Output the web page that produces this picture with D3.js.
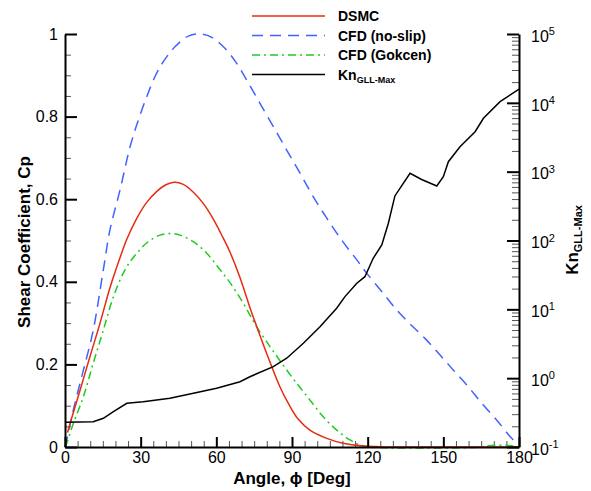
<!DOCTYPE html>
<html>
<head>
<meta charset="utf-8">
<script src="https://cdn.jsdelivr.net/npm/d3@7"></script>
<style>
  body { margin: 0; background: #fff; }
  text { font-family: "Liberation Sans", Arial, Helvetica, sans-serif; }
</style>
</head>
<body>
<script>
// DSMC shear coefficient
var dsmcAngle = [1, 2, 6, 9.9, 13.9, 17.8, 21.8, 24.5, 28.4, 32.1, 36.4, 40, 43.3, 46.9, 50.9, 54.8, 58.8, 62.8, 65.4, 69.4, 73.3, 77.3, 82, 85.2, 88.5, 92.5, 97.1, 103.8, 110.3, 118.3, 123.6, 130, 180];
var dsmcCp = [0.035, 0.057, 0.138, 0.219, 0.3, 0.385, 0.458, 0.503, 0.553, 0.59, 0.619, 0.635, 0.641, 0.636, 0.617, 0.59, 0.552, 0.505, 0.472, 0.41, 0.338, 0.27, 0.194, 0.146, 0.106, 0.067, 0.041, 0.021, 0.009, 0.0024, 0.001, 0, 0];

// CFD no-slip
var noslipAngle = [0, 0.7, 3.3, 7.3, 11.2, 15.2, 17.8, 21.8, 25.8, 29.1, 32.4, 35.7, 39, 43.6, 48.9, 53.5, 58.2, 62.8, 67.4, 72, 77.3, 82.6, 87.9, 93.2, 98.4, 103.8, 109.7, 115.7, 119.6, 126.2, 131.5, 136.8, 142.7, 148.7, 154, 159.9, 165.2, 171.2, 177.1, 180];
var noslipCp = [0, 0.017, 0.09, 0.186, 0.283, 0.429, 0.525, 0.622, 0.727, 0.792, 0.848, 0.897, 0.933, 0.969, 0.995, 1.0, 0.992, 0.969, 0.935, 0.889, 0.832, 0.776, 0.719, 0.663, 0.606, 0.554, 0.501, 0.453, 0.421, 0.372, 0.332, 0.298, 0.263, 0.223, 0.186, 0.146, 0.106, 0.065, 0.021, 0.006];

// CFD Gokcen slip
var gokcenAngle = [0, 0.7, 3.3, 7.3, 11.2, 15.2, 19.2, 23.8, 28.4, 33, 37.7, 41.6, 45.6, 50.9, 56.2, 61.5, 65.4, 70.7, 76, 81.3, 85.9, 91.9, 97.1, 102.4, 107.7, 113, 117, 121, 165, 168, 171, 175, 178, 180];
var gokcenCp = [0, 0.009, 0.057, 0.122, 0.203, 0.283, 0.364, 0.429, 0.469, 0.497, 0.513, 0.517, 0.513, 0.497, 0.469, 0.429, 0.398, 0.348, 0.291, 0.243, 0.203, 0.154, 0.114, 0.073, 0.041, 0.017, 0.005, 0, 0, 0.003, 0.004, 0.004, 0.002, 0];

// Kn GLL-Max (right log axis)
var knAngle = [0, 11.2, 15.2, 19.2, 24.5, 31, 41.6, 50.9, 60.1, 69.4, 73.3, 82.6, 87.9, 94.5, 101.1, 107.7, 111, 115.7, 118.9, 122.2, 125.6, 128.2, 130.8, 132.8, 136.8, 141.4, 147.4, 150, 152, 156.6, 162.6, 165.9, 172.5, 180];
var knValue = [0.229, 0.233, 0.261, 0.326, 0.432, 0.455, 0.511, 0.603, 0.713, 0.889, 1.05, 1.47, 1.95, 3.21, 5.6, 10.4, 15.3, 23.9, 29.8, 55.2, 86.1, 178, 444, 573, 946, 769, 619, 845, 1396, 2307, 3811, 5970, 10400, 15850];

var xTicks = [0, 30, 60, 90, 120, 150, 180];
var cpTicks = [0, 0.2, 0.4, 0.6, 0.8, 1];
var knExp = [-1, 0, 1, 2, 3, 4, 5];

var width = 591, height = 491;
var plotL = 65, plotR = 519, plotT = 34, plotB = 447;

var svg = d3.select("body").append("svg")
  .attr("width", width)
  .attr("height", height);

var x = d3.scaleLinear().domain([0, 180]).range([plotL, plotR]);
var y = d3.scaleLinear().domain([0, 1]).range([plotB, plotT]);
var yKn = d3.scaleLog().domain([0.1, 1e5]).range([plotB, plotT]);

/* minor ticks */
var xMinor = d3.range(0, 181, 5).filter(function(d) { return d % 30 !== 0; });
var cpMinor = d3.range(0, 1.0001, 0.05).filter(function(d) { return Math.round(d * 100) % 20 !== 0; });
var knMinor = [];
knExp.slice(0, -1).forEach(function(e) {
  for (var k = 2; k <= 9; k++) knMinor.push(k * Math.pow(10, e));
});

svg.append("g")
  .attr("transform", "translate(0," + plotB + ")")
  .call(d3.axisBottom(x).tickValues(xMinor).tickSize(-6).tickFormat(""))
  .call(function(g) { g.select(".domain").remove(); g.selectAll("line").attr("stroke", "#555"); });

svg.append("g")
  .attr("transform", "translate(" + plotL + ",0)")
  .call(d3.axisLeft(y).tickValues(cpMinor).tickSize(-6).tickFormat(""))
  .call(function(g) { g.select(".domain").remove(); g.selectAll("line").attr("stroke", "#555"); });

svg.append("g")
  .attr("transform", "translate(" + plotR + ",0)")
  .call(d3.axisRight(yKn).tickValues(knMinor).tickSize(-7).tickFormat(""))
  .call(function(g) { g.select(".domain").remove(); g.selectAll("line").attr("stroke", "#555"); });

/* curves */
function drawLine(xs, ys, yscale, color, dash) {
  var pts = xs.map(function(d, i) { return [d, ys[i]]; });
  var line = d3.line()
    .x(function(d) { return x(d[0]); })
    .y(function(d) { return yscale(d[1]); })
    .curve(d3.curveCatmullRom.alpha(0.5));
  svg.append("path")
    .datum(pts)
    .attr("d", line)
    .attr("fill", "none")
    .attr("stroke", color)
    .attr("stroke-width", 1.5)
    .attr("stroke-dasharray", dash);
}

drawLine(noslipAngle, noslipCp, y, "#4262ff", "11,7");
drawLine(gokcenAngle, gokcenCp, y, "#1fcc1f", "8,4,2,4");
drawLine(dsmcAngle, dsmcCp, y, "#e42c10", null);

var knLine = d3.line()
  .x(function(d, i) { return x(knAngle[i]); })
  .y(function(d) { return yKn(d); });
svg.append("path")
  .datum(knValue)
  .attr("d", knLine)
  .attr("fill", "none")
  .attr("stroke", "#000")
  .attr("stroke-width", 1.5);

/* major axes */
var gx = svg.append("g")
  .attr("transform", "translate(0," + plotB + ")")
  .call(d3.axisBottom(x).tickValues(xTicks).tickSizeInner(-10).tickSizeOuter(0).tickPadding(5));

var gy = svg.append("g")
  .attr("transform", "translate(" + plotL + ",0)")
  .call(d3.axisLeft(y).tickValues(cpTicks).tickSizeInner(-12).tickSizeOuter(0).tickPadding(7)
    .tickFormat(function(d) { return d === 0 || d === 1 ? d : d3.format(".1f")(d); }));

var gk = svg.append("g")
  .attr("transform", "translate(" + plotR + ",0)")
  .call(d3.axisRight(yKn).tickValues(knExp.map(function(e) { return Math.pow(10, e); }))
    .tickSizeInner(-12).tickSizeOuter(0).tickPadding(12).tickFormat(""));

[gx, gy, gk].forEach(function(g) {
  g.select(".domain").attr("stroke-width", 2);
  g.selectAll(".tick line").attr("stroke-width", 2);
  g.selectAll(".tick text").attr("font-size", 16).attr("fill", "#000")
    .style("font-family", "'Liberation Sans', Arial, sans-serif");
});

gk.selectAll(".tick text")
  .attr("dy", "0.45em")
  .each(function(d) {
    var t = d3.select(this);
    t.append("tspan").text("10");
    t.append("tspan").attr("dy", "-0.6em").attr("font-size", 11).text(Math.round(Math.log10(d)));
  });

/* axis titles */
svg.append("text")
  .attr("x", 292)
  .attr("y", 484)
  .attr("text-anchor", "middle")
  .attr("font-size", 17)
  .attr("font-weight", "bold")
  .text("Angle, \u03d5 [Deg]");

svg.append("text")
  .attr("transform", "translate(30,242) rotate(-90)")
  .attr("text-anchor", "middle")
  .attr("font-size", 17)
  .attr("font-weight", "bold")
  .text("Shear Coefficient, Cp");

var kt = svg.append("text")
  .attr("transform", "translate(578,240) rotate(-90)")
  .attr("text-anchor", "middle")
  .attr("font-size", 17)
  .attr("font-weight", "bold");
kt.append("tspan").text("Kn");
kt.append("tspan").attr("dy", "0.35em").attr("font-size", 11).text("GLL-Max");

/* legend */
var legendNames = ["DSMC", "CFD (no-slip)", "CFD (Gokcen)", "Kn"];
var legendColors = ["#e42c10", "#4262ff", "#1fcc1f", "#000"];
var legendDash = [null, "11,7", "8,4,2,4", null];

var lg = svg.append("g").attr("class", "legend");
legendNames.forEach(function(name, i) {
  var ly = 16 + i * 19.5;
  lg.append("line")
    .attr("x1", 252).attr("x2", 325)
    .attr("y1", ly).attr("y2", ly)
    .attr("stroke", legendColors[i])
    .attr("stroke-width", 1.5)
    .attr("stroke-dasharray", legendDash[i]);
  var t = lg.append("text")
    .attr("x", 338)
    .attr("y", ly + 5)
    .attr("font-size", 14)
    .attr("font-weight", "bold")
    .text(name);
  if (i === 3) {
    t.append("tspan").attr("dy", "0.35em").attr("font-size", 9).text("GLL-Max");
  }
});
</script>
</body>
</html>
